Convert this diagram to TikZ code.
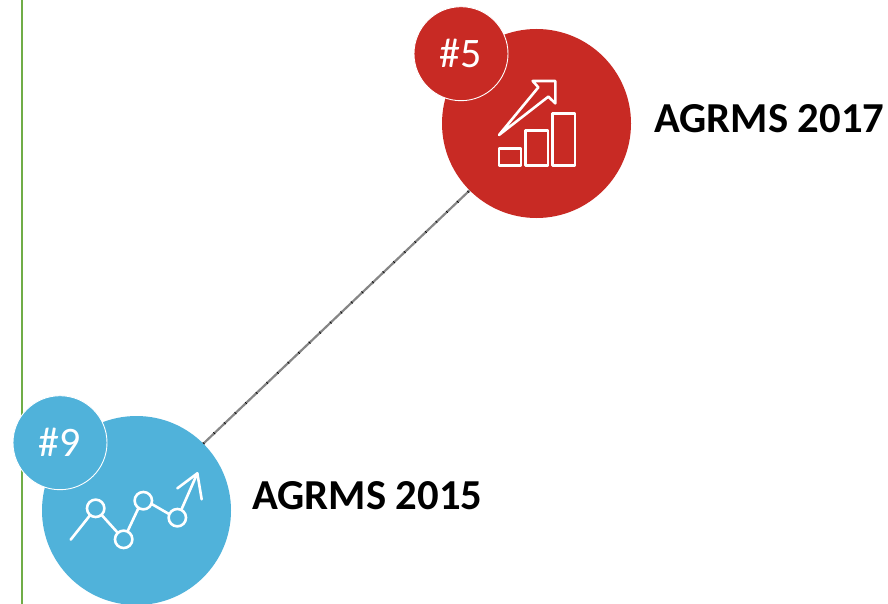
\documentclass[tikz,border=0pt]{standalone}
\usepackage{fontspec}
\setmainfont{Carlito}
\definecolor{brickred}{HTML}{C82A24}
\definecolor{skyblue}{HTML}{50B2DA}
\definecolor{rulegreen}{HTML}{70AD47}
\tikzset{
  bigdisc/.style={circle,inner sep=0pt,minimum size=189pt},
  rankdisc/.style={circle,inner sep=0pt,minimum size=94pt,draw=white,line width=0.9pt,text=white,font=\fontsize{42}{42}\selectfont},
  yearlabel/.style={inner sep=0pt,anchor=west,text=black,font=\fontsize{42.7}{43}\selectfont\bfseries},
  iconline/.style={draw=white,line width=2.6pt,line join=round,line cap=round},
  connector/.style={draw=gray!95,line width=2.2pt},
  connectorticks/.style={draw=black,line width=2.6pt,dash pattern=on 0.7pt off 13.9pt}
}
\begin{document}
\begin{tikzpicture}[x=1pt,y=-1pt]
\useasboundingbox (0,0) rectangle (888,604);
\fill[white] (0,0) rectangle (888,604);
\coordinate (railtop) at (22,0);
\coordinate (railbottom) at (22,604);
\draw[rulegreen,line width=2pt] (railtop) -- (railbottom);
\node[bigdisc,fill=brickred] (red) at (536.5,123.5) {};
\node[bigdisc,fill=skyblue] (blue) at (136.5,510.5) {};
\draw[connector] (blue.45) -- (red.225);
\draw[connectorticks] (blue.45) -- (red.225);
\node[rankdisc,fill=brickred] (rankfive) at (461,53.7) {\raisebox{-1.5pt}{\#5}};
\node[rankdisc,fill=skyblue] (ranknine) at (60,442.7) {\raisebox{-1.5pt}{\#9}};
\node[yearlabel] (y2017) at (654,118.5) {AGRMS 2017};
\node[yearlabel] (y2015) at (252,495.5) {AGRMS 2015};
% bar chart icon
\begin{scope}[shift={(410,0)},x=0.33333pt,y=-0.33333pt]
\draw[iconline] (267,405) -- (385,262) -- (368,243) -- (436,243) -- (436,310) -- (415,290) -- cycle;
\draw[iconline] (267,445) rectangle (333,497);
\draw[iconline] (347,392) rectangle (414,497);
\draw[iconline] (427,340) rectangle (495,497);
\end{scope}
% trend line icon
\begin{scope}[shift={(0,390)},x=0.33333pt,y=-0.33333pt]
\draw[iconline] (212,449) -- (270,376);
\draw[iconline] (305,375) -- (352,427);
\draw[iconline] (383,423) -- (415,355);
\draw[iconline] (455,342) -- (507,372);
\draw[iconline] (545,357) -- (592,250);
\draw[iconline] (532,295) -- (592,250) -- (605,328);
\draw[iconline] (287,355) circle[radius=8.7pt];
\draw[iconline] (371,448) circle[radius=8.7pt];
\draw[iconline] (430,332) circle[radius=8.7pt];
\draw[iconline] (532,383) circle[radius=8.7pt];
\end{scope}
\end{tikzpicture}
\end{document}
